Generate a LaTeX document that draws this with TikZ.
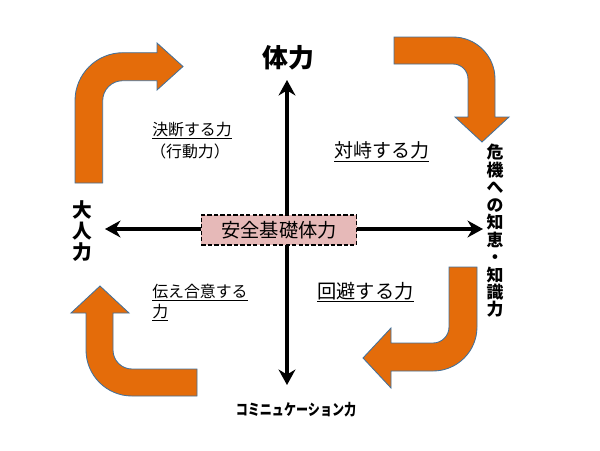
\documentclass[tikz,border=0pt]{standalone}
\usepackage{fontspec}
\setmainfont{Noto Sans CJK JP}
\usetikzlibrary{arrows.meta}

\definecolor{turnorange}{HTML}{E46C0A}
\definecolor{turnedge}{HTML}{41719C}
\definecolor{boxpink}{HTML}{E6B9B8}

\tikzset{
  turn/.style={fill=turnorange, draw=turnedge, line width=0.6pt, line join=miter},
  axis/.style={<->, line width=2.4pt},
  basebox/.style={draw, dashed, dash pattern=on 3pt off 1.6pt, line width=1.3pt, fill=boxpink,
    minimum width=3.875cm, minimum height=0.75cm, inner sep=0pt},
  lbl/.style={inner sep=0pt, anchor=base west},
  side/.style={inner sep=0pt, align=center, font=\bfseries}
}

\begin{document}
\begin{tikzpicture}[x=0.025cm, y=-0.025cm, >={Stealth[length=11pt,width=12pt]}]
    \useasboundingbox (0,0) rectangle (600,450);

    % axes
    \coordinate (vtop) at (287,80);
    \coordinate (vbot) at (287,385);
    \coordinate (hleft) at (105,229);
    \coordinate (hright) at (483,229);
    \draw[axis] (vbot) -- (vtop);
    \draw[axis] (hleft) -- (hright);

    \node[basebox, font=\fontsize{13.7pt}{15pt}\selectfont] (base) at (279,230) {安全基礎体力};

    % bent arrows, clockwise
    \draw[turn] (75,183) -- (75,100.7) arc[start angle=180, end angle=270, radius=48]
        -- (157,52.7) -- (157,43) -- (183,66.5) -- (157,90) -- (157,80.7) -- (122.7,80.7)
        arc[start angle=270, end angle=180, radius=20] -- (102.7,183) -- cycle;
    \draw[turn] (394,37) -- (453,37) arc[start angle=270, end angle=360, radius=42]
        -- (495,117) -- (509,117) -- (482,142) -- (455,117) -- (468,117) -- (468,79)
        arc[start angle=360, end angle=270, radius=15] -- (394,64) -- cycle;
    \draw[turn] (449,267) -- (477,267) -- (477,327) arc[start angle=0, end angle=90, radius=44]
        -- (391,371) -- (391,388) -- (363,358) -- (391,328) -- (391,343) -- (433,343)
        arc[start angle=90, end angle=0, radius=16] -- cycle;
    \draw[turn] (197,396) -- (132,396) arc[start angle=90, end angle=180, radius=46]
        -- (86,313) -- (71,313) -- (100,286) -- (129,313) -- (113,313) -- (113,350)
        arc[start angle=180, end angle=90, radius=19] -- (197,369) -- cycle;

    % axis labels
    \node[side, font=\bfseries\fontsize{18.4pt}{20pt}\selectfont] (body) at (288,58) {体力};
    \node[side, font=\bfseries\fontsize{14pt}{15pt}\selectfont] (adult) at (82,231) {大\\人\\力};
    \node[side, font=\bfseries\fontsize{12pt}{12.4pt}\selectfont] (crisis) at (495,231)
        {危\\機\\へ\\の\\知\\恵\\・\\知\\識\\力};
    \node[side, font=\bfseries\fontsize{11pt}{12pt}\selectfont, xscale=0.78] (comm) at (296,410)
        {コミニュケーション力};

    % quadrant labels
    \node[lbl, font=\fontsize{11.3pt}{13pt}\selectfont] (decide) at (152,135) {\underline{決断する力}};
    \node[lbl, font=\fontsize{11.3pt}{13pt}\selectfont] (act) at (150,157.5) {（行動力）};
    \node[lbl, font=\fontsize{13.5pt}{15pt}\selectfont] (face) at (334,157.5) {\underline{対峙する力}};
    \node[lbl, font=\fontsize{11.3pt}{13pt}\selectfont] (agree) at (152,297) {\underline{伝え合意する}};
    \node[lbl, font=\fontsize{11.3pt}{13pt}\selectfont] (agree2) at (152,317) {\underline{力}};
    \node[lbl, font=\fontsize{13.7pt}{15pt}\selectfont] (avoid) at (317,298) {\underline{回避する力}};
\end{tikzpicture}
\end{document}
